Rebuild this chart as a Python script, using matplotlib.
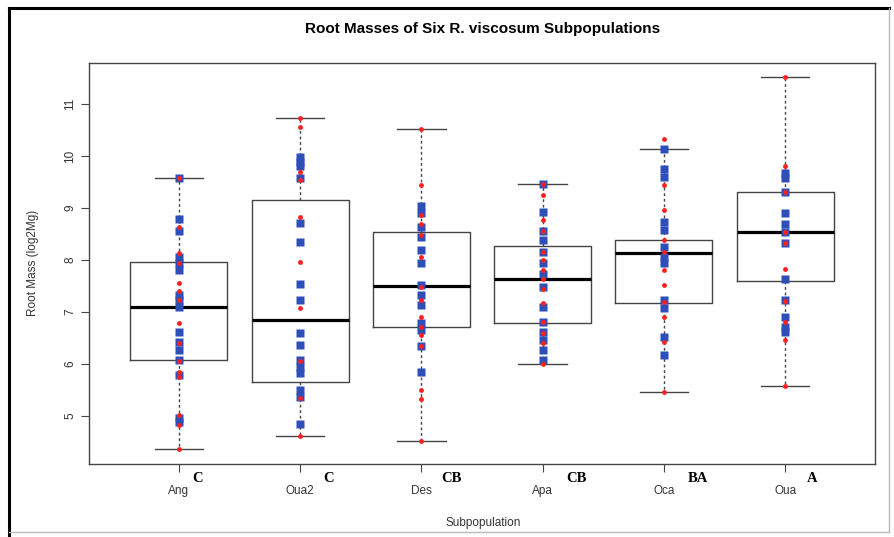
import numpy as np
import matplotlib
matplotlib.use("Agg")
import matplotlib.pyplot as plt
from matplotlib.lines import Line2D

plt.rcParams['font.family'] = ['Liberation Sans', 'DejaVu Sans']

groups = ['Ang', 'Oua2', 'Des', 'Apa', 'Oca', 'Oua']
letters = ['C', 'C', 'CB', 'CB', 'BA', 'A']

# box stats
whisk_lo = [4.37, 4.61, 4.51, 6.01, 5.47, 5.58]
q1 = [6.08, 5.65, 6.72, 6.79, 7.17, 7.60]
med = [7.10, 6.85, 7.50, 7.63, 8.14, 8.53]
q3 = [7.97, 9.15, 8.53, 8.27, 8.38, 9.30]
whisk_hi = [9.57, 10.74, 10.53, 9.47, 10.13, 11.53]

# blue squares
blue_ang = [9.57, 8.78, 8.55, 8.06, 7.94, 7.80, 7.33, 7.23, 7.10, 6.62, 6.43, 6.27, 6.08, 5.79, 4.96, 4.89]
blue_oua2 = [9.99, 9.89, 9.80, 9.57, 8.72, 8.35, 7.53, 7.23, 6.59, 6.37, 6.08, 5.95, 5.82, 5.50, 5.37, 4.85]
blue_des = [9.03, 8.90, 8.64, 8.45, 8.19, 7.94, 7.52, 7.33, 7.13, 6.78, 6.65, 6.35, 5.85]
blue_apa = [9.47, 8.93, 8.55, 8.38, 8.16, 7.94, 7.74, 7.49, 7.10, 6.81, 6.62, 6.46, 6.27, 6.08]
blue_oca = [10.13, 9.76, 9.60, 8.74, 8.58, 8.26, 8.06, 7.94, 7.23, 7.07, 6.52, 6.17]
blue_oua = [9.67, 9.57, 9.31, 8.91, 8.69, 8.53, 8.32, 7.63, 7.23, 6.91, 6.72, 6.62]

# red dots
red_ang = [9.57, 8.64, 8.13, 7.94, 7.56, 7.41, 7.23, 6.78, 6.40, 6.05, 5.85, 5.76, 5.02, 4.83, 4.37]
red_oua2 = [10.74, 10.56, 9.70, 9.54, 8.83, 7.96, 7.07, 6.05, 5.34, 4.62]
red_des = [10.53, 9.44, 8.86, 8.70, 8.48, 8.06, 7.49, 7.23, 6.91, 6.72, 6.56, 6.35, 5.50, 5.32, 4.51]
red_apa = [9.47, 9.25, 8.77, 8.55, 8.16, 8.00, 7.81, 7.63, 7.45, 7.18, 6.81, 6.59, 6.40, 6.01]
red_oca = [10.32, 9.44, 8.96, 8.38, 8.16, 7.81, 7.52, 7.20, 6.91, 6.43, 5.47]
red_oua = [11.53, 9.80, 9.31, 8.53, 8.32, 7.82, 7.22, 6.81, 6.47, 5.58]

blues = [blue_ang, blue_oua2, blue_des, blue_apa, blue_oca, blue_oua]
reds = [red_ang, red_oua2, red_des, red_apa, red_oca, red_oua]

W, H = 894, 537
fig = plt.figure(figsize=(W / 100, H / 100), dpi=100)
ax = fig.add_axes([89 / W, 1 - 464 / H, (875 - 89) / W, (464 - 63) / H])

pos = np.arange(1, len(groups) + 1)
stats = []
for i in range(len(groups)):
    stats.append(dict(whislo=whisk_lo[i], q1=q1[i], med=med[i], q3=q3[i],
                      whishi=whisk_hi[i], fliers=[]))

ax.bxp(stats, positions=pos, widths=0.8, capwidths=0.4, showfliers=False,
       boxprops=dict(color='#444444', lw=1),
       whiskerprops=dict(color='#444444', lw=1, linestyle=(0, (2, 2))),
       capprops=dict(color='#444444', lw=1),
       medianprops=dict(color='black', lw=2.3))

for i in range(len(groups)):
    ax.plot(np.full(len(blues[i]), pos[i]), blues[i], 's', color='#2f4fb8',
            ms=6, mec='none', zorder=3)
    ax.plot(np.full(len(reds[i]), pos[i]), reds[i], 'o', color='#ff2020',
            ms=3.5, mec='none', zorder=4)

ax.set_xlim(0.26, 6.74)
ax.set_ylim(4.077, 11.79)
ax.set_xticks(pos, groups)
ax.set_yticks(range(5, 12))
ax.tick_params(axis='both', length=6, width=0.8, color='#444444', labelsize=8.5, labelcolor='#333333')
ax.tick_params(axis='x', pad=9)
ax.tick_params(axis='y', pad=3)
for lab in ax.get_yticklabels():
    lab.set_rotation(90)
    lab.set_va('center')
for s in ax.spines.values():
    s.set_color('#444444')
    s.set_linewidth(1)

fig.text(483 / W, 1 - 29 / H, 'Root Masses of Six R. viscosum Subpopulations',
         ha='center', va='center', fontsize=11, fontweight='bold')
fig.text(33 / W, 1 - 263 / H, 'Root Mass (log2Mg)', rotation=90,
         ha='center', va='center', fontsize=8.5, color='#333333')
fig.text(483 / W, 1 - 523 / H, 'Subpopulation', ha='center', va='center',
         fontsize=8.5, color='#333333')

letter_x = [198, 329, 451, 576, 698, 812]
for lx, lt in zip(letter_x, letters):
    fig.text(lx / W, 1 - 479 / H, lt, ha='center', va='center', fontsize=10.5,
             fontweight='bold', family=['Liberation Serif', 'DejaVu Serif'])

# outer frame of the figure
fig.add_artist(Line2D([9 / W, 9 / W], [0, 1 - 8 / H], transform=fig.transFigure, color='black', lw=2.2))
fig.add_artist(Line2D([9 / W, 889 / W], [1 - 8 / H, 1 - 8 / H], transform=fig.transFigure, color='black', lw=2.2))
fig.add_artist(Line2D([889 / W, 889 / W], [1 - 532 / H, 1 - 8 / H], transform=fig.transFigure, color='#bbbbbb', lw=1))
fig.add_artist(Line2D([9 / W, 889 / W], [1 - 532 / H, 1 - 532 / H], transform=fig.transFigure, color='#bbbbbb', lw=1))

fig.savefig('out.png', dpi=100)
